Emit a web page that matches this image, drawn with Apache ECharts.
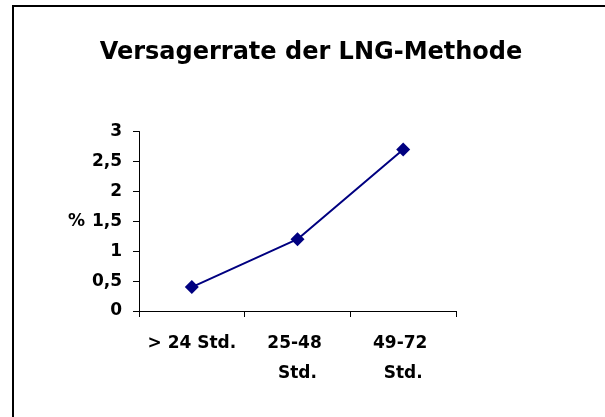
<!DOCTYPE html>
<html>
<head>
<meta charset="utf-8">
<script src="https://cdn.jsdelivr.net/npm/echarts@6/dist/echarts.min.js"></script>
<style>html,body{margin:0;padding:0;background:#fff}#c{width:605px;height:417px}</style>
</head>
<body>
<div id="c"></div>
<script>
var titleText = 'Versagerrate der LNG-Methode';
var categories = ['> 24 Std.', '25-48 Std.', '49-72 Std.'];
var values = [0.4, 1.2, 2.7];
var yAxisName = '%';

var chart = echarts.init(document.getElementById('c'), null, {renderer: 'canvas'});
var font = 'DejaVu Sans';
chart.setOption({
  animation: false,
  backgroundColor: '#ffffff',
  title: {
    text: titleText,
    left: 306,
    textAlign: 'center',
    top: 36,
    textStyle: {fontFamily: font, fontWeight: 'bold', fontSize: 24, color: '#000'}
  },
  graphic: [{
    type: 'rect',
    shape: {x: 13, y: 6, width: 640, height: 460},
    style: {fill: 'none', stroke: '#000', lineWidth: 2},
    silent: true
  }],
  grid: {left: 139, right: 149, top: 131.5, bottom: 106, containLabel: false},
  xAxis: {
    type: 'category',
    data: categories,
    boundaryGap: true,
    axisLine: {lineStyle: {color: '#000', width: 1}},
    axisTick: {show: true, length: 6, lineStyle: {color: '#000'}},
    axisLabel: {
      fontFamily: font, fontWeight: 'bold', fontSize: 17, color: '#000',
      margin: 18, lineHeight: 30, width: 96, overflow: 'break', interval: 0
    },
    splitLine: {show: false}
  },
  yAxis: {
    type: 'value',
    min: 0, max: 3, interval: 0.5,
    name: yAxisName,
    nameLocation: 'middle',
    nameRotate: 0,
    nameGap: 54,
    nameTextStyle: {fontFamily: font, fontWeight: 'bold', fontSize: 17, color: '#000'},
    axisLine: {show: true, lineStyle: {color: '#000', width: 1}},
    axisTick: {show: true, length: 6, lineStyle: {color: '#000'}},
    axisLabel: {
      fontFamily: font, fontWeight: 'bold', fontSize: 17, color: '#000', margin: 17,
      formatter: function (v) { return String(v).replace('.', ','); }
    },
    splitLine: {show: false}
  },
  series: [{
    type: 'line',
    data: values,
    symbol: 'diamond',
    symbolSize: 14,
    itemStyle: {color: '#000080'},
    lineStyle: {color: '#000080', width: 2}
  }]
});
</script>
</body>
</html>
